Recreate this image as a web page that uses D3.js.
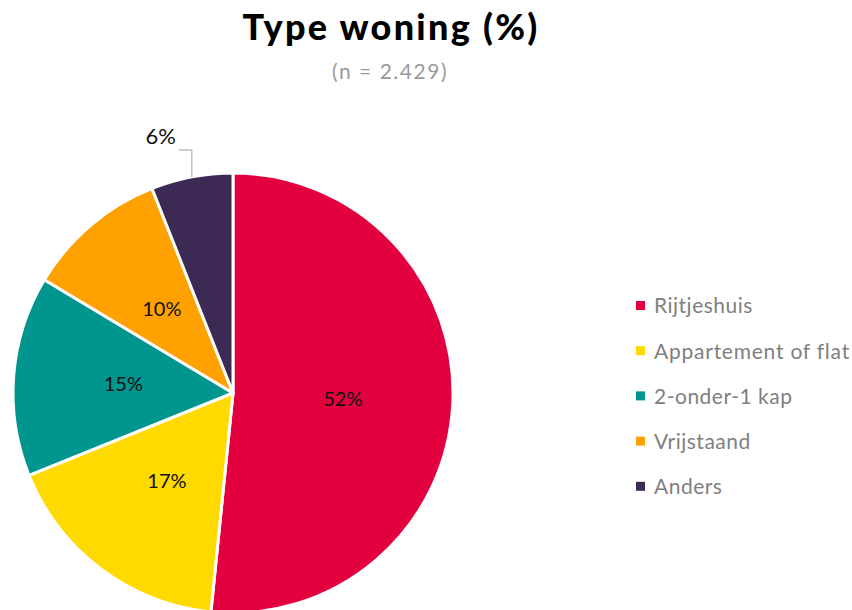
<!DOCTYPE html>
<html><head><meta charset="utf-8">
<script src="https://cdn.jsdelivr.net/npm/d3@7"></script>
<style>body{margin:0;background:#fff}svg{display:block}</style>
</head><body><svg id="c" width="852" height="610"></svg>
<script>
const categories = ["Rijtjeshuis","Appartement of flat","2-onder-1 kap","Vrijstaand","Anders"];
const values = [51.6, 17.3, 14.7, 10.4, 6.0];
const labels = ["52%","17%","15%","10%","6%"];
const colors = ["#E2003F","#FFDA00","#00968F","#FFA100","#3D2A54"];

const svg = d3.select("#c");
const cx = 233, cy = 393, R = 220;

function fitWidth(sel, w){
  const n = sel.text().length;
  const cur = sel.node().getComputedTextLength();
  sel.style("letter-spacing", ((w-cur)/n)+"px");
}

const title = svg.append("text").attr("x",391).attr("y",40).attr("text-anchor","middle")
  .style("font-family","Lato, sans-serif").style("font-weight","900")
  .style("font-size","36px").attr("fill","#000").text("Type woning (%)");
fitWidth(title, 297);
const sub = svg.append("text").attr("x",390).attr("y",79).attr("text-anchor","middle")
  .style("font-family","Lato, sans-serif").style("font-size","21px").attr("fill","#9a9a9a")
  .text("(n = 2.429)");
fitWidth(sub, 116);

const pie = d3.pie().sort(null).value(d=>d)(values);
const arc = d3.arc().innerRadius(0).outerRadius(R);
const g = svg.append("g").attr("transform",`translate(${cx},${cy})`);
g.selectAll("path").data(pie).join("path").attr("d",arc)
  .attr("fill",(d,i)=>colors[i]).attr("stroke","#fff").attr("stroke-width",3).attr("stroke-linejoin","round");

g.selectAll("text.lbl").data(pie.slice(0,4)).join("text").attr("class","lbl")
  .attr("transform",d=>`translate(${arc.centroid(d)})`)
  .attr("text-anchor","middle").attr("dy","0.35em")
  .style("font-family","Lato, sans-serif").style("font-size","20px").attr("fill","#111")
  .text((d,i)=>labels[i]);

// outside label for last slice
const last = pie[4];
const ang = (last.startAngle+last.endAngle)/2;
const px = R*Math.sin(ang), py = -R*Math.cos(ang);
g.append("path").attr("d",`M${px},${py}L${px},${py-27}L${px-13},${py-27}`)
  .attr("fill","none").attr("stroke","#bfbfbf").attr("stroke-width",1.5);
g.append("text").attr("x",px-16).attr("y",py-33).attr("text-anchor","end")
  .style("font-family","Lato, sans-serif").style("font-size","22px").attr("fill","#111")
  .text(labels[4]);

const lg = svg.append("g");
categories.forEach((c,i)=>{
  const y = 306 + i*45.2;
  lg.append("rect").attr("x",636).attr("y",y-5).attr("width",9).attr("height",9).attr("fill",colors[i]);
  const t = lg.append("text").attr("x",654).attr("y",y).attr("dy","0.35em")
    .style("font-family","Lato, sans-serif").style("font-size","21px").attr("fill","#7f7f7f").text(c);
  if (i===1) fitWidth(t, 196);
  else t.style("letter-spacing","0.5px");
});
</script></body></html>
